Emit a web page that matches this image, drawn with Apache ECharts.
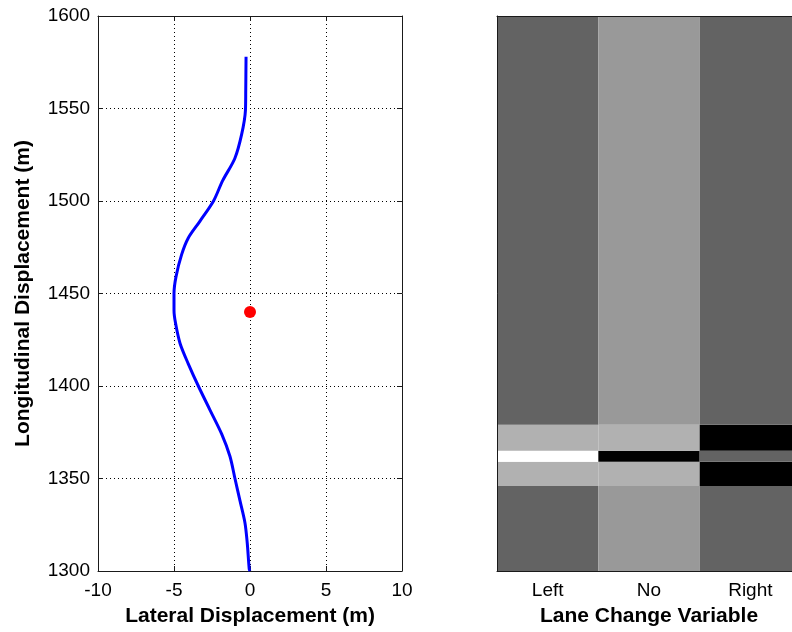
<!DOCTYPE html>
<html>
<head>
<meta charset="utf-8">
<script src="https://cdn.jsdelivr.net/npm/echarts@6/dist/echarts.min.js"></script>
<style>
  html, body { margin: 0; padding: 0; background: #fff; }
  #chart { width: 792px; height: 632px; }
</style>
</head>
<body>
<div id="chart"></div>
<script>
// trajectory (lateral m, longitudinal m), bottom to top
var lateralX = [0.0, -0.05, -0.18, -0.33, -0.66, -0.99, -1.32, -1.86, -2.63, -3.4, -4.06, -4.6, -4.9, -5.0,
                -5.0, -4.87, -4.5, -4.06, -3.3, -2.4, -1.8, -1.0, -0.55, -0.3, -0.28, -0.26];
var longitudinalY = [1300, 1301, 1315, 1326, 1338, 1350, 1362, 1374, 1387, 1400, 1412, 1423, 1434, 1441,
                     1450, 1459, 1471, 1480, 1489, 1500, 1511, 1523, 1536, 1549, 1560, 1578];
var vehiclePoint = [0, 1440];

// lane change variable image: rows between edges, grey level per column
var laneCategories = ['Left', 'No', 'Right'];
var rowEdges = [1300, 1346, 1359, 1365, 1379, 1600];
var rowGrey = [
    [99, 153, 99],
    [177, 177, 0],
    [255, 0, 99],
    [177, 177, 0],
    [99, 153, 99]
];

var xTicks = [-10, 10, 5];   // min, max, interval
var yTicks = [1300, 1600, 50];

var font = 'Liberation Sans';
var ink = '#1a1a1a';

var cells = [];
for (var r = 0; r < rowGrey.length; r++) {
    for (var c = 0; c < laneCategories.length; c++) {
        cells.push([c, rowEdges[r], rowEdges[r + 1], rowGrey[r][c]]);
    }
}
var trajectory = lateralX.map(function (x, i) { return [x, longitudinalY[i]]; });

var labelStyle = { color: '#000', fontFamily: font, fontSize: 19 };
var nameStyle = { color: '#000', fontFamily: font, fontSize: 21, fontWeight: 'bold' };
var dotted = { show: true, lineStyle: { color: '#000', type: [1, 3], width: 1 } };
var plainNumber = function (v) { return String(v); };

var myChart = echarts.init(document.getElementById('chart'));
var option = {
    animation: false,
    backgroundColor: '#fff',
    grid: [
        { left: 98, top: 16, width: 304, height: 555, outerBoundsMode: 'none' },
        { left: 497, top: 16, width: 304, height: 555, outerBoundsMode: 'none' }
    ],
    xAxis: [
        {
            gridIndex: 0, type: 'value', min: xTicks[0], max: xTicks[1], interval: xTicks[2],
            name: 'Lateral Displacement (m)', nameLocation: 'middle', nameGap: 35, nameTextStyle: nameStyle,
            axisLine: { onZero: false, lineStyle: { color: ink } },
            axisTick: { inside: true, length: 5, lineStyle: { color: ink } },
            axisLabel: Object.assign({ formatter: plainNumber, margin: 10 }, labelStyle),
            splitLine: dotted
        },
        {
            gridIndex: 0, type: 'value', position: 'top', min: xTicks[0], max: xTicks[1], interval: xTicks[2],
            axisLine: { onZero: false, lineStyle: { color: ink } },
            axisTick: { inside: true, length: 5, lineStyle: { color: ink } },
            axisLabel: { show: false }, splitLine: { show: false }
        },
        {
            gridIndex: 1, type: 'category', data: laneCategories, z: 5,
            name: 'Lane Change Variable', nameLocation: 'middle', nameGap: 35, nameTextStyle: nameStyle,
            axisLine: { onZero: false, lineStyle: { color: ink } },
            axisTick: { inside: true, length: 5, alignWithLabel: true, lineStyle: { color: ink } },
            axisLabel: Object.assign({ margin: 10 }, labelStyle)
        },
        {
            gridIndex: 1, type: 'category', data: laneCategories, position: 'top', z: 5,
            axisLine: { onZero: false, lineStyle: { color: ink } },
            axisTick: { inside: true, length: 5, alignWithLabel: true, lineStyle: { color: ink } },
            axisLabel: { show: false }
        }
    ],
    yAxis: [
        {
            gridIndex: 0, type: 'value', min: yTicks[0], max: yTicks[1], interval: yTicks[2],
            name: 'Longitudinal Displacement (m)', nameLocation: 'middle', nameGap: 64, nameTextStyle: nameStyle,
            axisLine: { show: true, onZero: false, lineStyle: { color: ink } },
            axisTick: { show: true, inside: true, length: 5, lineStyle: { color: ink } },
            axisLabel: Object.assign({ formatter: plainNumber, margin: 8 }, labelStyle),
            splitLine: dotted
        },
        {
            gridIndex: 0, type: 'value', position: 'right', min: yTicks[0], max: yTicks[1], interval: yTicks[2],
            axisLine: { show: true, onZero: false, lineStyle: { color: ink } },
            axisTick: { show: true, inside: true, length: 5, lineStyle: { color: ink } },
            axisLabel: { show: false }, splitLine: { show: false }
        },
        {
            gridIndex: 1, type: 'value', min: yTicks[0], max: yTicks[1], z: 5,
            axisLine: { show: true, onZero: false, lineStyle: { color: ink } },
            axisTick: { show: false }, axisLabel: { show: false }, splitLine: { show: false }
        }
    ],
    series: [
        {
            type: 'line', xAxisIndex: 0, yAxisIndex: 0,
            data: trajectory,
            showSymbol: false, symbol: 'none', smooth: 0.3,
            lineStyle: { color: '#0000ff', width: 3 },
            z: 3
        },
        {
            type: 'scatter', xAxisIndex: 0, yAxisIndex: 0,
            data: [vehiclePoint],
            symbol: 'circle', symbolSize: 12,
            itemStyle: { color: '#ff0000', opacity: 1 },
            z: 4
        },
        {
            type: 'custom', xAxisIndex: 2, yAxisIndex: 2,
            data: cells,
            encode: { x: 0, y: [1, 2] },
            renderItem: function (params, api) {
                var top = api.coord([api.value(0), api.value(2)]);
                var bottom = api.coord([api.value(0), api.value(1)]);
                var w = api.size([1, 0])[0];
                var g = api.value(3);
                return {
                    type: 'rect',
                    shape: { x: top[0] - w / 2, y: top[1], width: w, height: bottom[1] - top[1] },
                    style: { fill: 'rgb(' + g + ',' + g + ',' + g + ')', stroke: null }
                };
            },
            z: 1
        }
    ]
};
myChart.setOption(option);
</script>
</body>
</html>
